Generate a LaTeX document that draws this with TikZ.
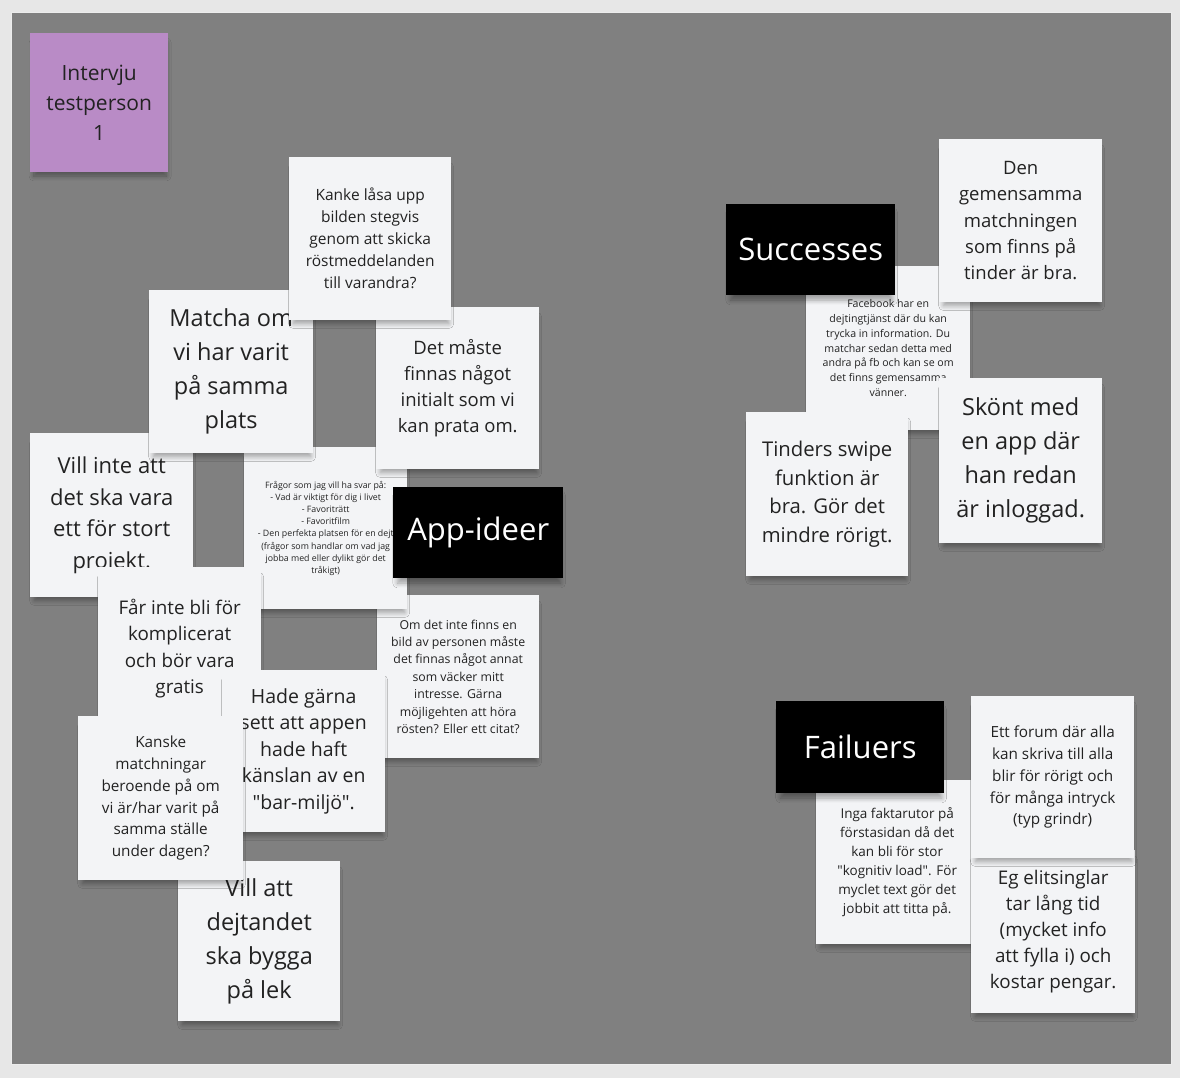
\documentclass[tikz,border=0pt]{standalone}
\usepackage{fontspec}
\setmainfont{Open Sans}[Ligatures=TeXOff]
\usetikzlibrary{shadows.blur}
\definecolor{outerbg}{HTML}{E7E7E7}
\definecolor{board}{HTML}{808080}
\definecolor{notebg}{HTML}{F3F4F6}
\definecolor{purplenote}{HTML}{B98BC6}
\definecolor{ink}{HTML}{222222}
\newcommand{\fs}[2]{\fontsize{#1}{#2}\selectfont}
\tikzset{
  softshadow/.style={blur shadow={shadow xshift=1pt, shadow yshift=-7pt, shadow scale=0.96, shadow blur steps=8, shadow blur radius=5pt, shadow opacity=35}},
  note/.style={fill=notebg, inner sep=0pt, anchor=north west, align=center, text=ink, softshadow},
  pnote/.style={note, fill=purplenote},
  label/.style={fill=black, inner sep=0pt, anchor=north west, align=center, text=white,
    font=\fs{31}{38}, softshadow},
  sz/.style 2 args={minimum width=#1pt, minimum height=#2pt}
}
\begin{document}
\begin{tikzpicture}[x=1pt,y=-1pt]
\useasboundingbox (0,0) rectangle (1180,1078);
\fill[outerbg] (0,0) rectangle (1180,1078);
\fill[board] (11,12) rectangle (1171,1064);
\draw[white!85!board, line width=0.8pt] (11,12) rectangle (1171,1064);

% title note
\node[pnote, sz={138}{139}, font=\fs{21}{30}] (title) at (30,33) {Intervju\\testperson\\1};

% left cluster (bottom to top)
\node[note, sz={163}{164}, font=\fs{22}{31.5}] (villinte) at (30,433) {Vill inte att\\det ska vara\\ett för stort\\projekt.};
\node[note, sz={162}{163}, font=\fs{12.3}{17.4}] (omdet) at (377,595) {Om det inte finns en\\bild av personen måste\\det finnas något annat\\som väcker mitt\\intresse. Gärna\\möjligehten att höra\\rösten? Eller ett citat?};
\node[note, sz={163}{162}, font=\fs{8.8}{12.2}] (fragor) at (244,447) {Frågor som jag vill ha svar på:\\- Vad är viktigt för dig i livet\\- Favoriträtt\\- Favoritfilm\\- Den perfekta platsen för en dejt\\(frågor som handlar om vad jag\\jobba med eller dylikt gör det\\tråkigt)};
\node[note, sz={163}{162}, font=\fs{18.5}{26.3}] (detmaste) at (376,307) {Det måste\\finnas något\\initialt som vi\\kan prata om.};
\node[note, sz={164}{163}, font=\fs{23.5}{34}] (matcha) at (149,290) {Matcha om\\vi har varit\\på samma\\plats};
\node[note, sz={162}{163}, font=\fs{15.5}{22}] (kanke) at (289,157) {Kanke låsa upp\\bilden stegvis\\genom att skicka\\röstmeddelanden\\till varandra?};
\node[label, sz={170}{91}] (appideer) at (393,487) {App-ideer};
\node[note, sz={163}{163}, font=\fs{18.8}{26.5}] (farinte) at (98,567) {Får inte bli för\\komplicerat\\och bör vara\\gratis};
\node[note, sz={163}{162}, font=\fs{19.5}{26.5}] (hade) at (222,670) {Hade gärna\\sett att appen\\hade haft\\känslan av en\\"bar-miljö".};
\node[note, sz={162}{160}, font=\fs{23.5}{34}] (villatt) at (178,861) {Vill att\\dejtandet\\ska bygga\\på lek};
\node[note, sz={165}{164}, font=\fs{15.3}{21.8}] (kanske) at (78,716) {Kanske\\matchningar\\beroende på om\\vi är/har varit på\\samma ställe\\under dagen?};

% successes cluster
\node[note, sz={164}{164}, font=\fs{10.6}{14.8}] (facebook) at (806,266) {Facebook har en\\dejtingtjänst där du kan\\trycka in information. Du\\matchar sedan detta med\\andra på fb och kan se om\\det finns gemensamma\\vänner.};
\node[label, sz={169}{91}] (successes) at (726,204) {Successes};
\node[note, sz={163}{163}, font=\fs{18.5}{26.3}] (den) at (939,139) {Den\\gemensamma\\matchningen\\som finns på\\tinder är bra.};
\node[note, sz={163}{165}, font=\fs{23.5}{34}] (skont) at (939,378) {Skönt med\\en app där\\han redan\\är inloggad.};
\node[note, sz={162}{164}, font=\fs{20.3}{28.5}] (tinders) at (746,412) {Tinders swipe\\funktion är\\bra. Gör det\\mindre rörigt.};

% failures cluster
\node[note, sz={162}{164}, font=\fs{13.5}{19}] (inga) at (816,780) {Inga faktarutor på\\förstasidan då det\\kan bli för stor\\"kognitiv load". För\\myclet text gör det\\jobbit att titta på.};
\node[label, sz={168}{92}] (failuers) at (776,701) {Failuers};
\node[note, sz={164}{163}, font=\fs{18.8}{26.2}] (eg) at (971,850) {Eg elitsinglar\\tar lång tid\\(mycket info\\att fylla i) och\\kostar pengar.};
\node[note, sz={163}{162}, font=\fs{15.3}{21.8}] (forum) at (971,696) {Ett forum där alla\\kan skriva till alla\\blir för rörigt och\\för många intryck\\(typ grindr)};
\end{tikzpicture}
\end{document}
